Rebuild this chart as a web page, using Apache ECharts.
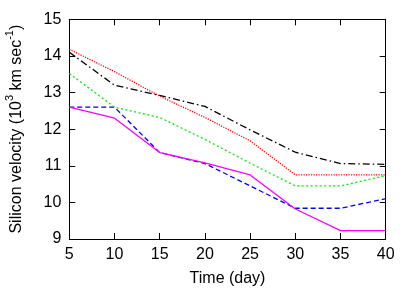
<!DOCTYPE html>
<html><head><meta charset="utf-8">
<script src="https://cdn.jsdelivr.net/npm/echarts@6/dist/echarts.min.js"></script>
<style>html,body{margin:0;padding:0;background:#fff}#c{width:415px;height:291px}</style>
</head><body><div id="c"></div>
<script>
var days = [5, 10, 15, 20, 25, 30, 35, 40];
var seriesBlack = [14.1, 13.2, 12.92, 12.62, 11.98, 11.37, 11.06, 11.04];
var seriesRed = [14.18, 13.57, 12.9, 12.32, 11.68, 10.75, 10.75, 10.75];
var seriesGreen = [13.52, 12.6, 12.32, 11.72, 11.07, 10.45, 10.45, 10.73];
var seriesBlue = [12.6, 12.6, 11.36, 11.06, 10.45, 9.84, 9.84, 10.1];
var seriesMagenta = [12.6, 12.3, 11.36, 11.08, 10.75, 9.82, 9.23, 9.23];

function pairs(v){ return days.map(function(d,i){ return [d, v[i]]; }); }
var F = 'Liberation Sans, Arial, sans-serif';
var axisBase = {
  axisLine:{show:true, onZero:false, lineStyle:{color:'#000', width:1}},
  axisTick:{show:true, inside:true, length:6, lineStyle:{color:'#000', width:1}},
  splitLine:{show:false}
};
function mk(name, data, color, type, z){
  return {name:name, type:'line', data:pairs(data), symbol:'none', z:z,
    lineStyle:{color:color, width:1.3, type:type}, itemStyle:{color:color}};
}
var chart = echarts.init(document.getElementById('c'));
chart.setOption({
  animation:false,
  grid:{left:69.3, right:29.3, top:19.3, bottom:52, containLabel:false, outerBoundsMode:'none'},
  xAxis:[
    Object.assign({type:'value', min:5, max:40, interval:5, position:'bottom',
      name:'Time (day)', nameLocation:'middle', nameGap:32,
      nameTextStyle:{fontFamily:F, fontSize:16, color:'#000'},
      axisLabel:{fontFamily:F, fontSize:16, color:'#000', margin:8}}, axisBase),
    Object.assign({type:'value', min:5, max:40, interval:5, position:'top',
      axisLabel:{show:false}}, axisBase)
  ],
  yAxis:[
    Object.assign({type:'value', min:9, max:15, interval:1, position:'left',
      name:'{n|Silicon velocity (10}{s|3}{n| km sec}{s|-1}{n|)}', nameLocation:'middle', nameGap:45,
      nameTextStyle:{fontFamily:F, fontSize:16, color:'#000',
        rich:{n:{fontFamily:F, fontSize:16, color:'#000', lineHeight:20, verticalAlign:'bottom'},
              s:{fontFamily:F, fontSize:11, color:'#000', lineHeight:20, verticalAlign:'top'}}},
      axisLabel:{fontFamily:F, fontSize:16, color:'#000', margin:8}}, axisBase),
    Object.assign({type:'value', min:9, max:15, interval:1, position:'right',
      axisLabel:{show:false}}, axisBase)
  ],
  series:[
    mk('black', seriesBlack, '#000000', [7,3,1.5,3], 5),
    mk('red', seriesRed, '#ff0000', [1.2,1.3], 4),
    mk('green', seriesGreen, '#00ee00', [2,2.5], 3),
    mk('blue', seriesBlue, '#0000ff', [5,3], 2),
    mk('magenta', seriesMagenta, '#ff00ff', 'solid', 6)
  ]
});
</script></body></html>
